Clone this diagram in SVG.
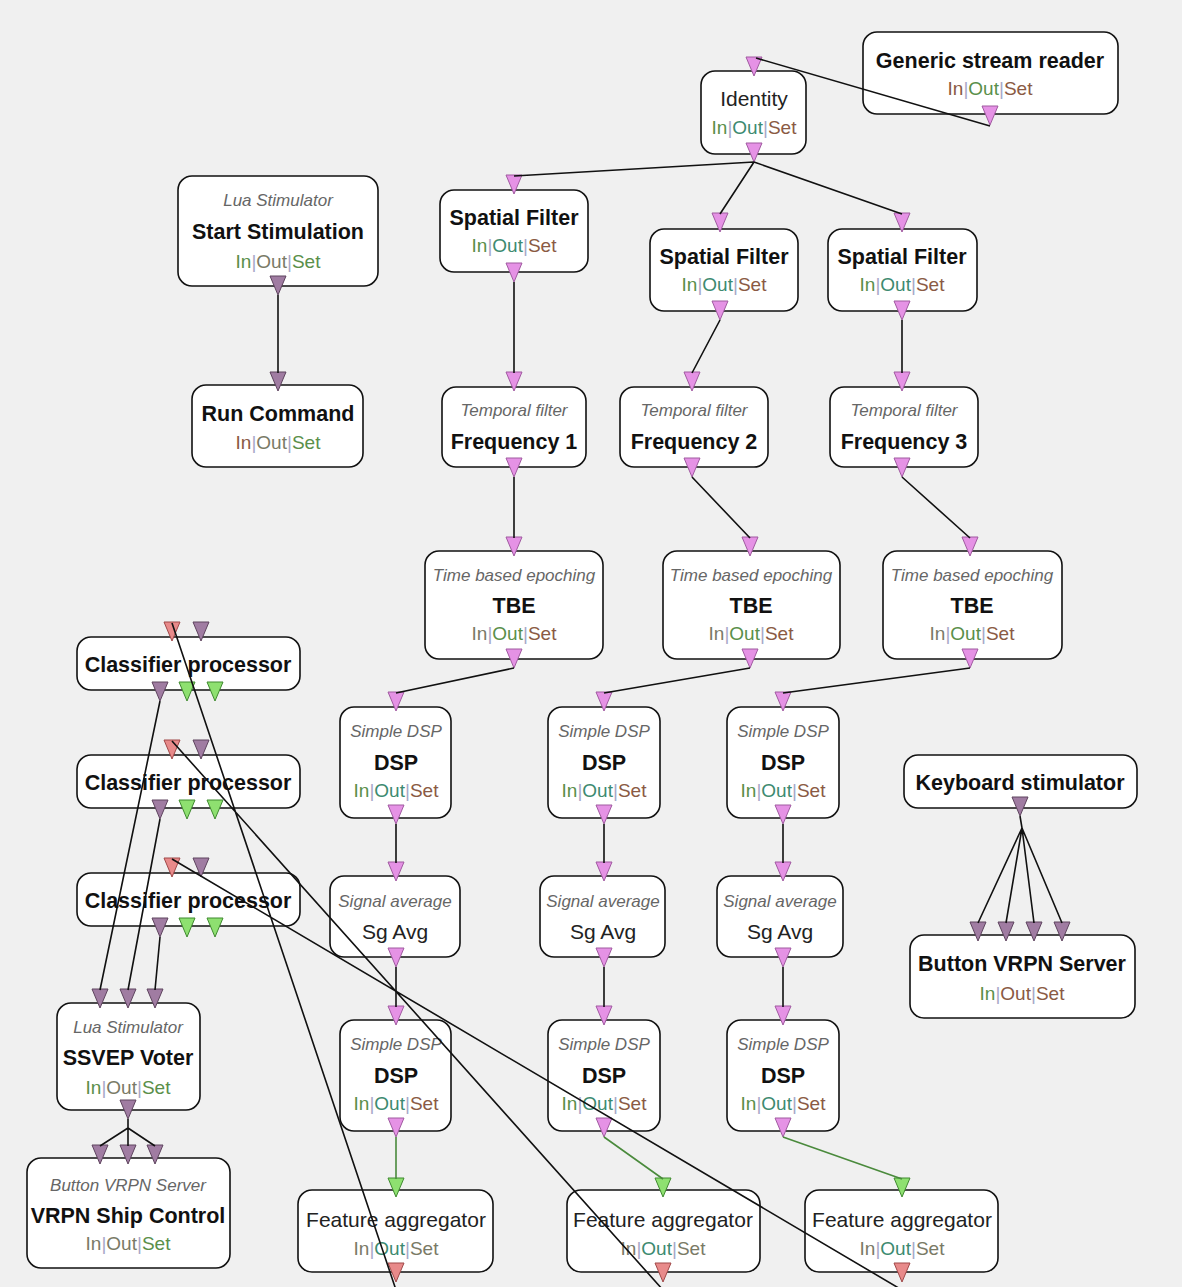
<svg xmlns="http://www.w3.org/2000/svg" xmlns:xlink="http://www.w3.org/1999/xlink" width="1182" height="1287" viewBox="0 0 1182 1287">
<style>
.bx{fill:#fff;stroke:#111;stroke-width:1.6}
text{font-family:"Liberation Sans",Arial,sans-serif;text-anchor:middle}
.t{font-size:21.5px;font-weight:bold;fill:#111}
.r{font-size:21px;fill:#222}
.i{font-size:17px;font-style:italic;fill:#666}
.s{font-size:19px}
.cg{fill:#5a8f4a}.cb{fill:#8a5a44}.ct{fill:#3d8a70}.cy{fill:#7a7a66}.cp{fill:#a8a8c8}
.pk{fill:#e592e5;stroke:#a05aa0;stroke-width:1}
.mv{fill:#a07ca2;stroke:#5e445e;stroke-width:1}
.gr{fill:#8ee070;stroke:#3f8a2f;stroke-width:1}
.sa{fill:#e88a8a;stroke:#a04848;stroke-width:1}
.ln{stroke:#111;stroke-width:1.6;fill:none}
.lg{stroke:#4a8a3c;stroke-width:1.6;fill:none}
</style>
<defs>
<path id="tri" d="M-8,0 H8 L0,19 Z"/>
</defs>
<rect width="1182" height="1287" fill="#f0f0f0"/>

<g id="generic-stream-reader">
<rect class="bx" x="863" y="32" width="255" height="82" rx="14"/>
<text class="t" x="990" y="68">Generic stream reader</text>
<text class="s" x="990" y="95"><tspan class="cb">In</tspan><tspan class="cp">|</tspan><tspan class="cg">Out</tspan><tspan class="cp">|</tspan><tspan class="cb">Set</tspan></text>
<use href="#tri" class="pk" x="990" y="106"/>
</g>

<g id="identity">
<rect class="bx" x="701" y="71" width="105" height="83" rx="14"/>
<text class="r" x="754" y="106">Identity</text>
<text class="s" x="754" y="134"><tspan class="cg">In</tspan><tspan class="cp">|</tspan><tspan class="ct">Out</tspan><tspan class="cp">|</tspan><tspan class="cb">Set</tspan></text>
<use href="#tri" class="pk" x="754" y="57"/>
<use href="#tri" class="pk" x="754" y="143"/>
</g>

<g id="start-stimulation">
<rect class="bx" x="178" y="176" width="200" height="110" rx="14"/>
<text class="i" x="278" y="206">Lua Stimulator</text>
<text class="t" x="278" y="239">Start Stimulation</text>
<text class="s" x="278" y="268"><tspan class="cg">In</tspan><tspan class="cp">|</tspan><tspan class="cy">Out</tspan><tspan class="cp">|</tspan><tspan class="cg">Set</tspan></text>
<use href="#tri" class="mv" x="278" y="276"/>
</g>

<g id="run-command">
<rect class="bx" x="192" y="385" width="171" height="82" rx="14"/>
<text class="t" x="278" y="421">Run Command</text>
<text class="s" x="278" y="449"><tspan class="cb">In</tspan><tspan class="cp">|</tspan><tspan class="cy">Out</tspan><tspan class="cp">|</tspan><tspan class="cg">Set</tspan></text>
<use href="#tri" class="mv" x="278" y="372"/>
</g>

<g id="spatial-filter-1">
<rect class="bx" x="440" y="190" width="148" height="82" rx="14"/>
<text class="t" x="514" y="225">Spatial Filter</text>
<text class="s" x="514" y="252"><tspan class="cg">In</tspan><tspan class="cp">|</tspan><tspan class="ct">Out</tspan><tspan class="cp">|</tspan><tspan class="cb">Set</tspan></text>
<use href="#tri" class="pk" x="514" y="175"/>
<use href="#tri" class="pk" x="514" y="263"/>
</g>
<g id="spatial-filter-2">
<rect class="bx" x="650" y="229" width="148" height="82" rx="14"/>
<text class="t" x="724" y="264">Spatial Filter</text>
<text class="s" x="724" y="291"><tspan class="cg">In</tspan><tspan class="cp">|</tspan><tspan class="ct">Out</tspan><tspan class="cp">|</tspan><tspan class="cb">Set</tspan></text>
<use href="#tri" class="pk" x="720" y="213"/>
<use href="#tri" class="pk" x="720" y="301"/>
</g>
<g id="spatial-filter-3">
<rect class="bx" x="828" y="229" width="149" height="82" rx="14"/>
<text class="t" x="902" y="264">Spatial Filter</text>
<text class="s" x="902" y="291"><tspan class="cg">In</tspan><tspan class="cp">|</tspan><tspan class="ct">Out</tspan><tspan class="cp">|</tspan><tspan class="cb">Set</tspan></text>
<use href="#tri" class="pk" x="902" y="213"/>
<use href="#tri" class="pk" x="902" y="301"/>
</g>

<g id="frequency-1">
<rect class="bx" x="442" y="387" width="144" height="80" rx="14"/>
<text class="i" x="514" y="416">Temporal filter</text>
<text class="t" x="514" y="449">Frequency 1</text>
<use href="#tri" class="pk" x="514" y="372"/>
<use href="#tri" class="pk" x="514" y="458"/>
</g>
<g id="frequency-2">
<rect class="bx" x="620" y="387" width="148" height="80" rx="14"/>
<text class="i" x="694" y="416">Temporal filter</text>
<text class="t" x="694" y="449">Frequency 2</text>
<use href="#tri" class="pk" x="692" y="372"/>
<use href="#tri" class="pk" x="692" y="458"/>
</g>
<g id="frequency-3">
<rect class="bx" x="830" y="387" width="148" height="80" rx="14"/>
<text class="i" x="904" y="416">Temporal filter</text>
<text class="t" x="904" y="449">Frequency 3</text>
<use href="#tri" class="pk" x="902" y="372"/>
<use href="#tri" class="pk" x="902" y="458"/>
</g>

<g id="tbe-1">
<rect class="bx" x="425" y="551" width="178" height="108" rx="14"/>
<text class="i" x="514" y="581">Time based epoching</text>
<text class="t" x="514" y="613">TBE</text>
<text class="s" x="514" y="640"><tspan class="cy">In</tspan><tspan class="cp">|</tspan><tspan class="cg">Out</tspan><tspan class="cp">|</tspan><tspan class="cb">Set</tspan></text>
<use href="#tri" class="pk" x="514" y="537"/>
<use href="#tri" class="pk" x="514" y="649"/>
</g>
<g id="tbe-2">
<rect class="bx" x="663" y="551" width="177" height="108" rx="14"/>
<text class="i" x="751" y="581">Time based epoching</text>
<text class="t" x="751" y="613">TBE</text>
<text class="s" x="751" y="640"><tspan class="cy">In</tspan><tspan class="cp">|</tspan><tspan class="cg">Out</tspan><tspan class="cp">|</tspan><tspan class="cb">Set</tspan></text>
<use href="#tri" class="pk" x="750" y="537"/>
<use href="#tri" class="pk" x="750" y="649"/>
</g>
<g id="tbe-3">
<rect class="bx" x="883" y="551" width="179" height="108" rx="14"/>
<text class="i" x="972" y="581">Time based epoching</text>
<text class="t" x="972" y="613">TBE</text>
<text class="s" x="972" y="640"><tspan class="cy">In</tspan><tspan class="cp">|</tspan><tspan class="cg">Out</tspan><tspan class="cp">|</tspan><tspan class="cb">Set</tspan></text>
<use href="#tri" class="pk" x="970" y="537"/>
<use href="#tri" class="pk" x="970" y="649"/>
</g>

<g id="dsp-1">
<rect class="bx" x="340" y="707" width="111" height="111" rx="14"/>
<text class="i" x="396" y="737">Simple DSP</text>
<text class="t" x="396" y="770">DSP</text>
<text class="s" x="396" y="797"><tspan class="cg">In</tspan><tspan class="cp">|</tspan><tspan class="ct">Out</tspan><tspan class="cp">|</tspan><tspan class="cb">Set</tspan></text>
<use href="#tri" class="pk" x="396" y="692"/>
<use href="#tri" class="pk" x="396" y="805"/>
</g>
<g id="dsp-2">
<rect class="bx" x="548" y="707" width="112" height="111" rx="14"/>
<text class="i" x="604" y="737">Simple DSP</text>
<text class="t" x="604" y="770">DSP</text>
<text class="s" x="604" y="797"><tspan class="cg">In</tspan><tspan class="cp">|</tspan><tspan class="ct">Out</tspan><tspan class="cp">|</tspan><tspan class="cb">Set</tspan></text>
<use href="#tri" class="pk" x="604" y="692"/>
<use href="#tri" class="pk" x="604" y="805"/>
</g>
<g id="dsp-3">
<rect class="bx" x="727" y="707" width="112" height="111" rx="14"/>
<text class="i" x="783" y="737">Simple DSP</text>
<text class="t" x="783" y="770">DSP</text>
<text class="s" x="783" y="797"><tspan class="cg">In</tspan><tspan class="cp">|</tspan><tspan class="ct">Out</tspan><tspan class="cp">|</tspan><tspan class="cb">Set</tspan></text>
<use href="#tri" class="pk" x="783" y="692"/>
<use href="#tri" class="pk" x="783" y="805"/>
</g>

<g id="sg-avg-1">
<rect class="bx" x="330" y="876" width="130" height="81" rx="14"/>
<text class="i" x="395" y="907">Signal average</text>
<text class="r" x="395" y="939">Sg Avg</text>
<use href="#tri" class="pk" x="396" y="862"/>
<use href="#tri" class="pk" x="396" y="948"/>
</g>
<g id="sg-avg-2">
<rect class="bx" x="540" y="876" width="125" height="81" rx="14"/>
<text class="i" x="603" y="907">Signal average</text>
<text class="r" x="603" y="939">Sg Avg</text>
<use href="#tri" class="pk" x="604" y="862"/>
<use href="#tri" class="pk" x="604" y="948"/>
</g>
<g id="sg-avg-3">
<rect class="bx" x="717" y="876" width="126" height="81" rx="14"/>
<text class="i" x="780" y="907">Signal average</text>
<text class="r" x="780" y="939">Sg Avg</text>
<use href="#tri" class="pk" x="783" y="862"/>
<use href="#tri" class="pk" x="783" y="948"/>
</g>

<g id="dsp-4">
<rect class="bx" x="340" y="1020" width="111" height="111" rx="14"/>
<text class="i" x="396" y="1050">Simple DSP</text>
<text class="t" x="396" y="1083">DSP</text>
<text class="s" x="396" y="1110"><tspan class="cg">In</tspan><tspan class="cp">|</tspan><tspan class="ct">Out</tspan><tspan class="cp">|</tspan><tspan class="cb">Set</tspan></text>
<use href="#tri" class="pk" x="396" y="1006"/>
<use href="#tri" class="pk" x="396" y="1118"/>
</g>
<g id="dsp-5">
<rect class="bx" x="548" y="1020" width="112" height="111" rx="14"/>
<text class="i" x="604" y="1050">Simple DSP</text>
<text class="t" x="604" y="1083">DSP</text>
<text class="s" x="604" y="1110"><tspan class="cg">In</tspan><tspan class="cp">|</tspan><tspan class="ct">Out</tspan><tspan class="cp">|</tspan><tspan class="cb">Set</tspan></text>
<use href="#tri" class="pk" x="604" y="1006"/>
<use href="#tri" class="pk" x="604" y="1118"/>
</g>
<g id="dsp-6">
<rect class="bx" x="727" y="1020" width="112" height="111" rx="14"/>
<text class="i" x="783" y="1050">Simple DSP</text>
<text class="t" x="783" y="1083">DSP</text>
<text class="s" x="783" y="1110"><tspan class="cg">In</tspan><tspan class="cp">|</tspan><tspan class="ct">Out</tspan><tspan class="cp">|</tspan><tspan class="cb">Set</tspan></text>
<use href="#tri" class="pk" x="783" y="1006"/>
<use href="#tri" class="pk" x="783" y="1118"/>
</g>

<g id="feature-aggregator-1">
<rect class="bx" x="298" y="1190" width="195" height="82" rx="14"/>
<text class="r" x="396" y="1227">Feature aggregator</text>
<text class="s" x="396" y="1255"><tspan class="cy">In</tspan><tspan class="cp">|</tspan><tspan class="ct">Out</tspan><tspan class="cp">|</tspan><tspan class="cy">Set</tspan></text>
<use href="#tri" class="gr" x="396" y="1178"/>
<use href="#tri" class="sa" x="396" y="1263"/>
</g>
<g id="feature-aggregator-2">
<rect class="bx" x="567" y="1190" width="193" height="82" rx="14"/>
<text class="r" x="663" y="1227">Feature aggregator</text>
<text class="s" x="663" y="1255"><tspan class="cy">In</tspan><tspan class="cp">|</tspan><tspan class="ct">Out</tspan><tspan class="cp">|</tspan><tspan class="cy">Set</tspan></text>
<use href="#tri" class="gr" x="663" y="1178"/>
<use href="#tri" class="sa" x="663" y="1263"/>
</g>
<g id="feature-aggregator-3">
<rect class="bx" x="805" y="1190" width="193" height="82" rx="14"/>
<text class="r" x="902" y="1227">Feature aggregator</text>
<text class="s" x="902" y="1255"><tspan class="cy">In</tspan><tspan class="cp">|</tspan><tspan class="ct">Out</tspan><tspan class="cp">|</tspan><tspan class="cy">Set</tspan></text>
<use href="#tri" class="gr" x="902" y="1178"/>
<use href="#tri" class="sa" x="902" y="1263"/>
</g>

<g id="classifier-processor-1">
<rect class="bx" x="77" y="637" width="223" height="53" rx="14"/>
<text class="t" x="188" y="672">Classifier processor</text>
<use href="#tri" class="sa" x="172" y="622"/>
<use href="#tri" class="mv" x="201" y="622"/>
<use href="#tri" class="mv" x="160" y="682"/>
<use href="#tri" class="gr" x="187" y="682"/>
<use href="#tri" class="gr" x="215" y="682"/>
</g>
<g id="classifier-processor-2">
<rect class="bx" x="77" y="755" width="223" height="53" rx="14"/>
<text class="t" x="188" y="790">Classifier processor</text>
<use href="#tri" class="sa" x="172" y="740"/>
<use href="#tri" class="mv" x="201" y="740"/>
<use href="#tri" class="mv" x="160" y="800"/>
<use href="#tri" class="gr" x="187" y="800"/>
<use href="#tri" class="gr" x="215" y="800"/>
</g>
<g id="classifier-processor-3">
<rect class="bx" x="77" y="873" width="223" height="53" rx="14"/>
<text class="t" x="188" y="908">Classifier processor</text>
<use href="#tri" class="sa" x="172" y="858"/>
<use href="#tri" class="mv" x="201" y="858"/>
<use href="#tri" class="mv" x="160" y="918"/>
<use href="#tri" class="gr" x="187" y="918"/>
<use href="#tri" class="gr" x="215" y="918"/>
</g>

<g id="ssvep-voter">
<rect class="bx" x="57" y="1003" width="143" height="107" rx="14"/>
<text class="i" x="128" y="1033">Lua Stimulator</text>
<text class="t" x="128" y="1065">SSVEP Voter</text>
<text class="s" x="128" y="1094"><tspan class="cg">In</tspan><tspan class="cp">|</tspan><tspan class="cy">Out</tspan><tspan class="cp">|</tspan><tspan class="cg">Set</tspan></text>
<use href="#tri" class="mv" x="100" y="989"/>
<use href="#tri" class="mv" x="128" y="989"/>
<use href="#tri" class="mv" x="155" y="989"/>
<use href="#tri" class="mv" x="128" y="1100"/>
</g>

<g id="vrpn-ship-control">
<rect class="bx" x="27" y="1158" width="203" height="110" rx="14"/>
<text class="i" x="128" y="1191">Button VRPN Server</text>
<text class="t" x="128" y="1223">VRPN Ship Control</text>
<text class="s" x="128" y="1250"><tspan class="cy">In</tspan><tspan class="cp">|</tspan><tspan class="cy">Out</tspan><tspan class="cp">|</tspan><tspan class="cg">Set</tspan></text>
<use href="#tri" class="mv" x="100" y="1145"/>
<use href="#tri" class="mv" x="128" y="1145"/>
<use href="#tri" class="mv" x="155" y="1145"/>
</g>

<g id="keyboard-stimulator">
<rect class="bx" x="904" y="755" width="233" height="53" rx="14"/>
<text class="t" x="1020" y="790">Keyboard stimulator</text>
<use href="#tri" class="mv" x="1020" y="797"/>
</g>

<g id="button-vrpn-server">
<rect class="bx" x="910" y="935" width="225" height="83" rx="14"/>
<text class="t" x="1022" y="971">Button VRPN Server</text>
<text class="s" x="1022" y="1000"><tspan class="cg">In</tspan><tspan class="cp">|</tspan><tspan class="cb">Out</tspan><tspan class="cp">|</tspan><tspan class="cb">Set</tspan></text>
<use href="#tri" class="mv" x="978" y="922"/>
<use href="#tri" class="mv" x="1006" y="922"/>
<use href="#tri" class="mv" x="1034" y="922"/>
<use href="#tri" class="mv" x="1062" y="922"/>
</g>

<g id="connectors">
<path class="ln" d="M990,126 L756,58"/>
<path class="ln" d="M754,162 L514,176 M754,162 L720,214 M754,162 L902,214"/>
<path class="ln" d="M278,295 V373"/>
<path class="ln" d="M514,282 V373 M720,320 L692,373 M902,320 V373"/>
<path class="ln" d="M514,477 V538 M692,477 L750,538 M902,477 L970,538"/>
<path class="ln" d="M514,668 L396,693 M750,668 L604,693 M970,668 L783,693"/>
<path class="ln" d="M396,824 V863 M604,824 V863 M783,824 V863"/>
<path class="ln" d="M396,967 V1007 M604,967 V1007 M783,967 V1007"/>
<path class="lg" d="M396,1137 V1179 M604,1137 L663,1179 M783,1137 L902,1179"/>
<path class="ln" d="M396,1290 L172,623 M663,1290 L172,741 M902,1290 L172,859"/>
<path class="ln" d="M160,701 L100,990 M160,819 L128,990 M160,937 L155,990"/>
<path class="ln" d="M128,1119 L128,1128 L100,1146 M128,1128 L128,1146 M128,1128 L155,1146"/>
<path class="ln" d="M1020,816 L1022,828 L978,923 M1022,828 L1006,923 M1022,828 L1034,923 M1022,828 L1062,923"/>
</g>
</svg>
